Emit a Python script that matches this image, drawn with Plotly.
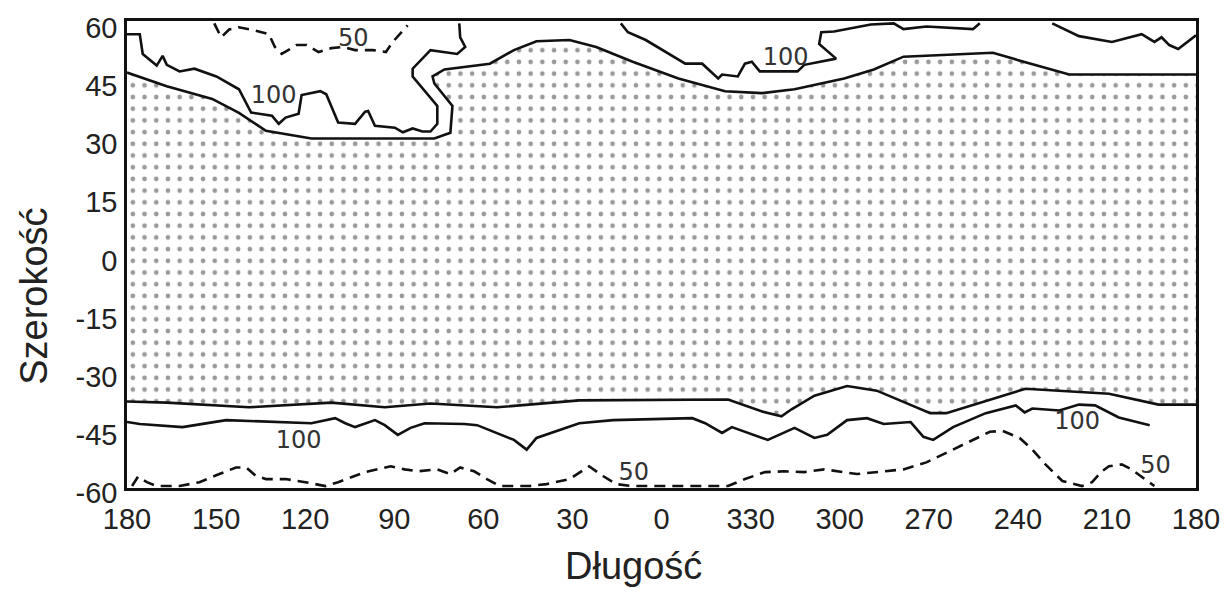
import plotly.graph_objects as go

# ---- axis ticks (x position = degrees from the left edge of the map) ----
x_tick_pos = [0, 30, 60, 90, 120, 150, 180, 210, 240, 270, 300, 330, 360]
x_tick_text = ["180", "150", "120", "90", "60", "30", "0", "330", "300", "270", "240", "210", "180"]
y_tick_vals = [-60, -45, -30, -15, 0, 15, 30, 45, 60]
y_tick_text = ["-60", "-45", "-30", "-15", "0", "15", "30", "45", "60"]

# ---- dotted region: northern edge (solid line) ----
north_x = [0, 13.4, 28.7, 37.7, 46.8, 62.1, 103.5, 108.9, 109.6, 103.5, 102.9, 106.9, 122.2, 130.3,
           137.9, 149.0, 158.0, 170.3, 185.7, 201.4, 213.8, 224.8, 241.5, 251.5, 261.5, 291.6,
           298.3, 317.3, 360]
north_y = [46.9, 43.4, 40.1, 36.5, 31.9, 29.9, 29.9, 31.4, 38.3, 44.1, 45.9, 47.7, 49.2, 52.7,
           55.0, 55.3, 53.5, 49.7, 45.4, 42.1, 41.6, 42.6, 45.4, 47.7, 51.0, 52.0,
           50.5, 46.4, 46.4]

# ---- dotted region: southern edge (solid line) ----
south_x = [0, 13.4, 41.1, 68.8, 86.8, 102.2, 124.6, 152.3, 202.4, 214.8, 220.4, 223.8, 231.5,
           242.5, 252.5, 270.5, 275.9, 302.6, 330.7, 347.4, 360]
south_y = [-37.9, -38.2, -39.4, -38.2, -39.4, -38.4, -39.4, -37.6, -37.4, -40.7, -41.7, -39.9, -36.4,
           -33.9, -35.1, -40.9, -40.9, -34.6, -35.9, -38.7, -38.7]

# ---- northern 100 contour (three pieces) ----
n100a_x = [0, 4.3, 5.3, 10.0, 12.0, 13.4, 17.7, 22.7, 30.1, 37.7, 41.8, 48.8, 51.1, 53.4, 57.8,
           58.8, 65.1, 67.1, 71.1, 76.8, 80.2, 81.2, 83.5, 90.2, 92.9, 96.2, 99.5, 102.2, 104.5,
           104.5, 96.2, 96.2, 102.2, 111.2, 113.9, 112.2, 111.9]
n100a_y = [56.8, 56.8, 51.7, 48.7, 51.2, 48.9, 47.2, 47.9, 45.9, 42.6, 36.6, 35.8, 33.7, 35.3, 36.3,
           41.1, 42.1, 41.3, 34.0, 33.7, 36.8, 37.0, 33.2, 32.7, 31.5, 32.5, 31.7, 31.7, 33.7,
           38.3, 45.9, 47.9, 52.7, 51.7, 53.5, 56.0, 59.6]
n100b_x = [166.3, 168.7, 174.7, 188.0, 193.7, 199.1, 200.4, 205.7, 208.1, 210.4, 213.1, 225.8,
           228.1, 238.8, 233.1, 233.8, 238.1, 250.5, 258.2, 261.5, 269.2, 284.9, 287.2]
n100b_y = [59.6, 57.3, 55.3, 49.2, 49.2, 45.4, 46.4, 45.9, 49.2, 49.7, 47.2, 47.2,
           48.9, 50.5, 54.3, 57.3, 57.5, 59.3, 59.6, 58.1, 58.8, 58.1, 59.6]
n100c_x = [311.6, 320.6, 331.7, 341.7, 346.0, 348.4, 351.0, 354.0, 360]
n100c_y = [59.6, 56.3, 54.8, 56.8, 54.8, 56.0, 54.0, 53.0, 56.5]

# ---- southern 100 contour ----
s100_x = [0, 4.3, 18.7, 33.4, 62.1, 70.1, 73.5, 76.8, 83.5, 86.8, 91.2, 95.5, 100.2, 113.6, 117.9,
          124.6, 130.3, 134.6, 137.9, 152.3, 163.7, 190.4, 194.7, 200.4, 203.7, 215.8, 224.8,
          231.5, 235.8, 242.5, 249.2, 254.8, 263.9, 268.2, 271.5, 278.2, 289.2, 299.3, 302.3,
          304.9, 314.0, 320.6, 326.0, 334.0, 344.4]
s100_y = [-43.2, -43.7, -44.5, -42.7, -43.5, -42.2, -43.5, -44.5, -42.7, -44.0, -46.5, -44.7, -43.5,
          -43.7, -44.0, -46.0, -47.8, -50.3, -47.3, -43.5, -42.7, -42.2, -43.5, -46.0, -44.5, -47.8,
          -44.7, -47.3, -46.5, -42.7, -42.2, -43.7, -43.2, -47.0, -47.8, -44.5, -40.9, -38.9,
          -40.7, -39.7, -40.2, -38.7, -38.9, -42.0, -44.0]

# ---- northern 50 contour (dashed) ----
n50_x = [29.4, 31.7, 34.4, 37.7, 42.8, 47.8, 49.8, 52.1, 57.1, 60.5, 64.5, 68.8, 72.8, 76.8, 82.8,
         87.2, 89.5, 92.2, 94.5]
n50_y = [59.6, 56.0, 58.0, 58.6, 57.8, 56.8, 53.5, 51.7, 54.0, 54.0, 52.2, 53.2, 53.5, 52.7, 52.7,
         52.2, 54.8, 57.0, 59.1]

# ---- southern 50 contour (dashed) ----
s50_x = [1.7, 3.7, 6.7, 10.0, 17.7, 24.4, 31.1, 36.7, 40.1, 43.4, 46.8, 53.4, 60.1, 66.8, 71.1,
         80.2, 88.8, 93.5, 97.9, 104.5, 108.9, 112.2, 116.9, 121.2, 125.6, 135.6, 141.3, 149.0,
         155.6, 160.3, 164.7, 170.3, 202.4, 208.1, 214.8, 221.4, 228.1, 234.8, 245.8, 261.5,
         269.2, 278.2, 290.6, 294.9, 300.6, 304.9, 309.3, 315.0, 321.6, 325.0, 328.3, 330.7,
         335.0, 338.3, 342.7, 346.0]
s50_y = [-59.7, -57.3, -58.7, -59.7, -59.7, -58.7, -56.6, -54.9, -54.9, -57.1, -57.9, -57.9, -58.7,
         -59.7, -58.7, -56.1, -54.6, -55.4, -55.9, -55.4, -56.6, -54.9, -55.9, -57.9, -59.7, -59.7,
         -59.2, -57.9, -54.6, -57.1, -59.2, -59.7, -59.7, -57.9, -56.1, -55.9, -56.1, -55.4, -56.6,
         -55.4, -53.6, -50.3, -45.7, -45.5, -47.3, -50.3, -54.1, -58.4, -59.7, -58.7, -55.9, -54.6,
         -54.1, -55.4, -57.9, -59.7]

# ---- contour labels ----
label_x = [76.2, 49.4, 221.8, 57.8, 320.0, 170.7, 346.4]
label_y = [55.2, 40.6, 50.4, -48.3, -43.5, -56.6, -54.8]
label_text = ["50", "100", "100", "100", "100", "50", "50"]

LINE = "#111111"
LW = 2.6

fig = go.Figure()

# dotted region
fig.add_trace(go.Scatter(
    x=north_x + south_x[::-1], y=north_y + south_y[::-1],
    mode="lines", fill="toself",
    fillcolor="rgba(255,255,255,0)",
    fillpattern=dict(shape=".", size=11.7, solidity=0.13, fgcolor="#333333", bgcolor="white"),
    line=dict(width=0, color="rgba(0,0,0,0)"),
    hoverinfo="skip", showlegend=False))

solid_sets = [(north_x, north_y), (south_x, south_y), (n100a_x, n100a_y), (n100b_x, n100b_y),
              (n100c_x, n100c_y), (s100_x, s100_y)]
for xs, ys in solid_sets:
    fig.add_trace(go.Scatter(x=xs, y=ys, mode="lines",
                             line=dict(color=LINE, width=LW),
                             hoverinfo="skip", showlegend=False))

for xs, ys in [(n50_x, n50_y), (s50_x, s50_y)]:
    fig.add_trace(go.Scatter(x=xs, y=ys, mode="lines",
                             line=dict(color=LINE, width=LW, dash="11px,7px"),
                             hoverinfo="skip", showlegend=False))

fig.add_trace(go.Scatter(x=label_x, y=label_y, mode="text", text=label_text,
                         textfont=dict(family="DejaVu Sans", size=24, color="#333333"),
                         hoverinfo="skip", showlegend=False))

tick_font = dict(family="Liberation Sans, Arial", size=29, color="#222222")

fig.update_layout(
    width=1232, height=596,
    margin=dict(l=127, r=27, t=14, b=108),
    paper_bgcolor="white", plot_bgcolor="white",
    xaxis=dict(range=[0, 360], tickmode="array", tickvals=x_tick_pos, ticktext=x_tick_text,
               showgrid=False, zeroline=False, showline=True, mirror=True,
               linecolor=LINE, linewidth=LW, ticks="", tickfont=tick_font,
               ticklabelstandoff=3),
    yaxis=dict(range=[-60.2, 60.2], tickmode="array", tickvals=y_tick_vals, ticktext=y_tick_text,
               showgrid=False, zeroline=False, showline=True, mirror=True,
               linecolor=LINE, linewidth=LW, ticks="", tickfont=tick_font,
               ticklabelshift=6, ticklabelstandoff=1),
    annotations=[
        dict(text="Długość", xref="paper", yref="paper", x=0.474, y=-0.1667,
             xanchor="center", yanchor="middle", showarrow=False,
             font=dict(family="Liberation Sans, Arial", size=38, color="#222222")),
        dict(text="Szerokość", xref="paper", yref="paper", x=-0.0872, y=0.411,
             xanchor="center", yanchor="middle", showarrow=False, textangle=-90,
             font=dict(family="Liberation Sans, Arial", size=38, color="#222222")),
    ],
)

fig.write_html("out.html")
